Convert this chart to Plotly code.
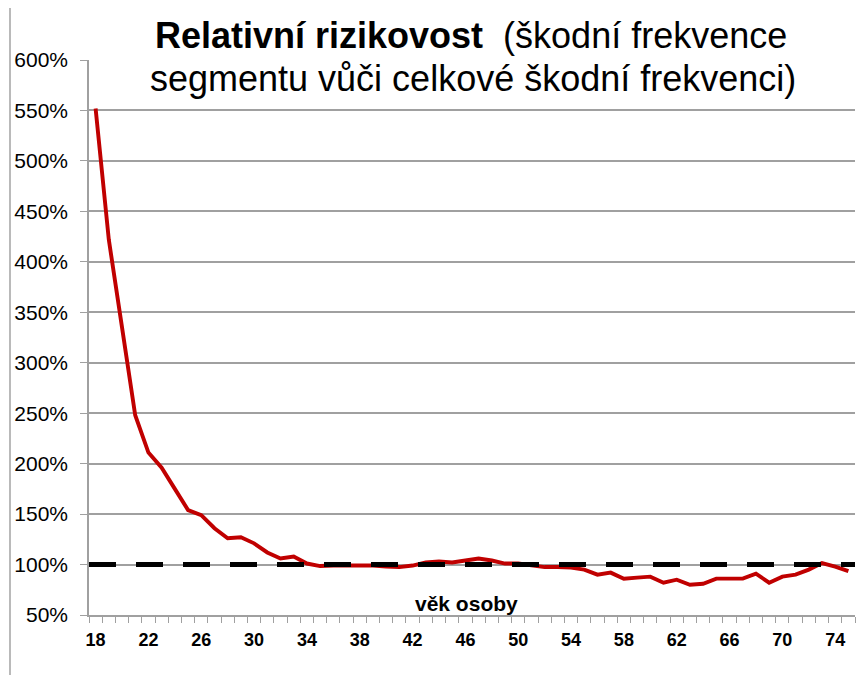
import plotly.graph_objects as go

ages = list(range(18, 76))
relative_risk = [
    552, 422, 335, 248, 211, 196, 175, 154, 149, 136,
    126, 127, 121, 112, 106, 108, 101, 98.5, 99, 99,
    99, 99, 98, 97.5, 99, 102, 103, 102, 104, 106,
    104, 101, 101, 99, 97.5, 97.5, 97, 95, 90, 92,
    86, 87, 88, 82, 85, 80, 81, 86, 86, 86,
    91, 82, 88, 90, 95, 101.5, 98, 93.5,
]
baseline = 100
y_ticks = list(range(50, 601, 50))
y_tick_text = [f"{v}%" for v in y_ticks]
x_label_ages = list(range(18, 76, 4))

title_line1 = "<b>Relativní rizikovost</b>&nbsp; (škodní frekvence"
title_line2 = "segmentu vůči celkové škodní frekvenci)"
x_title = "<b>věk osoby</b>"

FONT = "Liberation Sans, Arial, sans-serif"
GRID = "#a0a0a0"

# page body adds 8px offset; plot area in page: x 89..855, y 60..615
OFF = 8
PL, PR, PT, PB = 89, 855, 60, 615
PW, PH = PR - PL, PB - PT


def px(x):
    return (x - PL) / PW


def py(y):
    return (PB - y) / PH


fig = go.Figure()
fig.add_trace(go.Scatter(
    x=ages, y=relative_risk, mode="lines",
    line=dict(color="#c00000", width=3.9),
    hoverinfo="skip", showlegend=False,
))

fig.add_shape(type="line", xref="paper", yref="y", x0=0, x1=1,
              y0=baseline, y1=baseline,
              line=dict(color="black", width=5, dash="27px,20px"))

# outer chart frame
fig.add_shape(type="rect", xref="paper", yref="paper",
              x0=px(10), x1=px(900), y0=py(720), y1=py(2),
              line=dict(color="#8c8c8c", width=1.2), layer="below")

fig.add_annotation(text=title_line1, xref="paper", yref="paper",
                   x=px(471), y=py(35), xanchor="center", yanchor="middle",
                   showarrow=False, font=dict(family=FONT, size=36, color="black"))
fig.add_annotation(text=title_line2, xref="paper", yref="paper",
                   x=px(473), y=py(78), xanchor="center", yanchor="middle",
                   showarrow=False, font=dict(family=FONT, size=36, color="black"))
fig.add_annotation(text=x_title, xref="paper", yref="paper",
                   x=px(466), y=py(603), xanchor="center", yanchor="middle",
                   showarrow=False, font=dict(family=FONT, size=21, color="black"))

fig.update_layout(
    width=865, height=675,
    margin=dict(l=PL - OFF, r=865 + OFF - PR, t=PT - OFF, b=675 + OFF - PB, autoexpand=False),
    paper_bgcolor="white", plot_bgcolor="white",
    font=dict(family=FONT, color="black"),
    xaxis=dict(
        range=[17.5, 75.5], tickmode="array", tickvals=x_label_ages,
        ticktext=[str(a) for a in x_label_ages],
        ticks="outside", ticklen=8, tickcolor="rgba(0,0,0,0)",
        tickfont=dict(family=FONT, size=18, color="black", weight="bold"),
        showgrid=False, zeroline=False,
        showline=True, linecolor=GRID, linewidth=1.5,
        minor=dict(tickmode="linear", tick0=17.5, dtick=1, ticks="outside",
                   ticklen=6, tickcolor=GRID, tickwidth=1.3, showgrid=False),
    ),
    yaxis=dict(
        range=[50, 600], tickmode="array", tickvals=y_ticks, ticktext=y_tick_text,
        ticks="outside", ticklen=7, tickcolor=GRID, tickwidth=1.3,
        ticklabelstandoff=8,
        tickfont=dict(family=FONT, size=21, color="black"),
        showgrid=True, gridcolor=GRID, gridwidth=1.5, zeroline=False,
        showline=True, linecolor=GRID, linewidth=1.5,
    ),
)

fig.write_html("out.html")
